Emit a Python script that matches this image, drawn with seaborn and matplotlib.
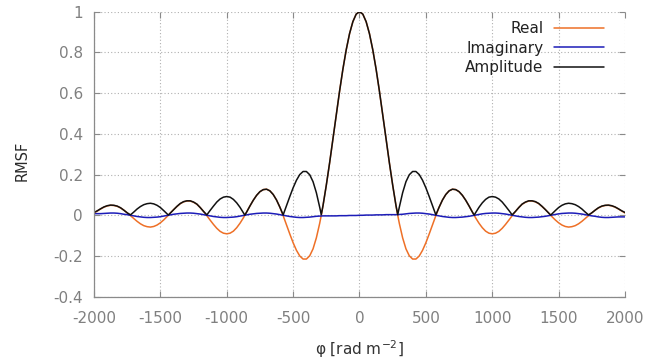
import numpy as np
import pandas as pd
import matplotlib
matplotlib.use("Agg")
import matplotlib.pyplot as plt
import seaborn as sns

# Faraday depth grid (rad m^-2): 25-step grid plus the null positions
phi = sorted(list(range(-2000, 2001, 25)) + [-1440, -864, -288, 288, 864, 1440])

real = [
    0.011, 0.021, 0.031, 0.040, 0.046, 0.049, 0.048, 0.044, 0.036, 0.025, 0.012,
    -0.002, -0.016, -0.030, -0.042, -0.051, -0.056, -0.058, -0.055, -0.048, -0.037,
    -0.023, -0.007, 0.000, 0.011, 0.028, 0.043, 0.057, 0.066, 0.070, 0.070, 0.064,
    0.054, 0.038, 0.019, -0.002, -0.024, -0.045, -0.064, -0.079, -0.088, -0.091,
    -0.088, -0.078, -0.061, -0.039, -0.013, 0.000, 0.016, 0.046, 0.074, 0.098,
    0.116, 0.126, 0.128, 0.120, 0.102, 0.075, 0.040, -0.002, -0.047, -0.092,
    -0.135, -0.172, -0.200, -0.215, -0.215, -0.199, -0.165, -0.111, -0.040, 0.000,
    0.047, 0.148, 0.258, 0.376, 0.494, 0.610, 0.718, 0.813, 0.892, 0.951, 0.988,
    1.000,
    0.988, 0.951, 0.892, 0.813, 0.718, 0.610, 0.494, 0.376, 0.258, 0.148, 0.047,
    0.000, -0.040, -0.111, -0.165, -0.199, -0.215, -0.215, -0.200, -0.172, -0.135,
    -0.092, -0.047, -0.002, 0.040, 0.075, 0.102, 0.120, 0.128, 0.126, 0.116, 0.098,
    0.074, 0.046, 0.016, 0.000, -0.013, -0.039, -0.061, -0.078, -0.088, -0.091,
    -0.088, -0.079, -0.064, -0.045, -0.024, -0.002, 0.019, 0.038, 0.054, 0.064,
    0.070, 0.070, 0.066, 0.057, 0.043, 0.028, 0.011, 0.000, -0.007, -0.023, -0.037,
    -0.048, -0.055, -0.058, -0.056, -0.051, -0.042, -0.030, -0.016, -0.002, 0.012,
    0.025, 0.036, 0.044, 0.048, 0.049, 0.046, 0.040, 0.031, 0.021, 0.011,
]

imag = [
    0.008, 0.008, 0.008, 0.009, 0.010, 0.011, 0.011, 0.010, 0.008, 0.005, 0.003,
    0.000, -0.003, -0.006, -0.008, -0.010, -0.011, -0.011, -0.010, -0.009, -0.007,
    -0.004, -0.001, 0.000, 0.002, 0.005, 0.007, 0.009, 0.010, 0.011, 0.011, 0.010,
    0.008, 0.006, 0.003, 0.000, -0.003, -0.006, -0.008, -0.010, -0.011, -0.011,
    -0.010, -0.009, -0.007, -0.004, -0.001, 0.000, 0.002, 0.005, 0.007, 0.009,
    0.010, 0.011, 0.011, 0.010, 0.008, 0.006, 0.003, 0.000, -0.003, -0.006,
    -0.008, -0.010, -0.011, -0.011, -0.010, -0.009, -0.007, -0.005, -0.004, -0.003,
    -0.003, -0.003, -0.003, -0.003, -0.003, -0.002, -0.002, -0.002, -0.001, -0.001, -0.001,
    0.000,
    0.000, 0.001, 0.001, 0.001, 0.002, 0.002, 0.002, 0.003, 0.003, 0.003, 0.003,
    0.003, 0.004, 0.005, 0.007, 0.009, 0.010, 0.011, 0.011, 0.010, 0.008,
    0.006, 0.003, 0.000, -0.003, -0.006, -0.008, -0.010, -0.011, -0.011, -0.010, -0.009,
    -0.007, -0.005, -0.002, 0.000, 0.001, 0.004, 0.007, 0.009, 0.010, 0.011,
    0.011, 0.010, 0.008, 0.006, 0.003, 0.000, -0.003, -0.006, -0.008, -0.010,
    -0.011, -0.011, -0.010, -0.009, -0.007, -0.005, -0.002, 0.000, 0.001, 0.004, 0.007,
    0.009, 0.010, 0.011, 0.011, 0.010, 0.008, 0.006, 0.003, 0.000, -0.003,
    -0.005, -0.008, -0.010, -0.011, -0.011, -0.010, -0.009, -0.008, -0.008, -0.008,
]

amplitude = [
    0.014, 0.022, 0.032, 0.041, 0.047, 0.050, 0.049, 0.045, 0.037, 0.025, 0.012,
    0.002, 0.016, 0.031, 0.043, 0.052, 0.057, 0.059, 0.056, 0.049, 0.038,
    0.023, 0.007, 0.001, 0.011, 0.028, 0.044, 0.058, 0.067, 0.071, 0.071, 0.065,
    0.055, 0.038, 0.019, 0.002, 0.024, 0.045, 0.065, 0.080, 0.089, 0.092,
    0.089, 0.078, 0.061, 0.039, 0.013, 0.001, 0.016, 0.046, 0.074, 0.098,
    0.116, 0.126, 0.128, 0.120, 0.102, 0.075, 0.040, 0.002, 0.047, 0.092,
    0.135, 0.172, 0.200, 0.215, 0.215, 0.199, 0.165, 0.111, 0.040, 0.003,
    0.047, 0.148, 0.258, 0.376, 0.494, 0.610, 0.718, 0.813, 0.892, 0.951, 0.988,
    1.000,
    0.988, 0.951, 0.892, 0.813, 0.718, 0.610, 0.494, 0.376, 0.258, 0.148, 0.047,
    0.003, 0.040, 0.111, 0.165, 0.199, 0.215, 0.215, 0.200, 0.172, 0.135,
    0.092, 0.047, 0.002, 0.040, 0.075, 0.102, 0.120, 0.128, 0.126, 0.116, 0.098,
    0.074, 0.046, 0.016, 0.001, 0.013, 0.039, 0.061, 0.078, 0.089, 0.092,
    0.089, 0.080, 0.065, 0.045, 0.024, 0.002, 0.019, 0.038, 0.055, 0.065,
    0.071, 0.071, 0.067, 0.058, 0.044, 0.028, 0.011, 0.001, 0.007, 0.023, 0.038,
    0.049, 0.056, 0.059, 0.057, 0.052, 0.043, 0.031, 0.016, 0.002, 0.012,
    0.025, 0.037, 0.045, 0.049, 0.050, 0.047, 0.041, 0.032, 0.022, 0.014,
]

series_names = ["Real", "Imaginary", "Amplitude"]
series_colors = ["#ee7027", "#1c1cb8", "#111111"]

x_ticks = [-2000, -1500, -1000, -500, 0, 500, 1000, 1500, 2000]
y_ticks = [-0.4, -0.2, 0, 0.2, 0.4, 0.6, 0.8, 1]
y_tick_labels = ["-0.4", "-0.2", "0", "0.2", "0.4", "0.6", "0.8", "1"]

df = pd.DataFrame({"phi": phi, "Real": real, "Imaginary": imag, "Amplitude": amplitude})

sns.set_theme(style="white")
plt.rcParams["font.family"] = ["DejaVu Sans"]

fig = plt.figure(figsize=(6.61, 3.62), dpi=100)
ax = fig.add_axes([94 / 661, 1 - 296.7 / 362, (625 - 94) / 661, (296.7 - 11.7) / 362])

for name, col in zip(series_names, series_colors):
    sns.lineplot(data=df, x="phi", y=name, ax=ax, color=col, linewidth=1.1,
                 label=name, sort=False, estimator=None)

ax.set_xlim(-2000, 2000)
ax.set_ylim(-0.4, 1)
ax.set_xticks(x_ticks)
ax.set_xticklabels([str(v) for v in x_ticks])
ax.set_yticks(y_ticks)
ax.set_yticklabels(y_tick_labels)

grid_col = "#b0b0b0"
ax.grid(True, color=grid_col, linestyle=(0, (1, 2)), linewidth=0.8)
ax.set_axisbelow(True)
for s in ["top", "right"]:
    ax.spines[s].set_visible(False)
for s in ["left", "bottom"]:
    ax.spines[s].set_visible(True)
    ax.spines[s].set_color("#8a8a8a")
    ax.spines[s].set_linewidth(0.9)

ax.tick_params(axis="both", which="both", direction="in", length=4, width=0.8,
               color="#8a8a8a", labelcolor="#808080", labelsize=11,
               top=True, right=True, bottom=True, left=True)
ax.tick_params(axis="x", pad=10)
ax.tick_params(axis="y", pad=8)

ax.set_xlabel("φ [rad m$^{-2}$]", fontsize=11, color="#333333", labelpad=9)
ax.set_ylabel("RMSF", fontsize=10.5, color="#2a2a2a")
ax.yaxis.set_label_coords((30 - 94) / 531, (296.7 - 161) / 285)

leg = ax.legend(loc="upper right", bbox_to_anchor=(604 / 661, 1 - 21 / 362),
                bbox_transform=fig.transFigure, frameon=False, markerfirst=False,
                fontsize=11, handlelength=3.3, handletextpad=0.65,
                labelspacing=0.3, borderpad=0, borderaxespad=0)
for t in leg.get_texts():
    t.set_color("#222222")

fig.savefig("out.png", dpi=100)
